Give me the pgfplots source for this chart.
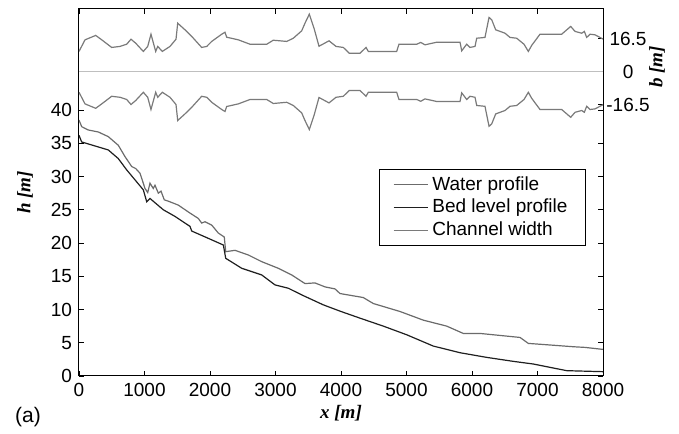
\documentclass[border=0pt]{standalone}
\usepackage{fontspec}
\setmainfont{Liberation Sans}
\newfontfamily\tnr{Liberation Serif}
\usepackage{pgfplots}
\pgfplotsset{compat=1.18}
\definecolor{watercol}{gray}{0.42}
\definecolor{bedcol}{gray}{0.12}
\definecolor{widthcol}{gray}{0.48}
\definecolor{zerocol}{gray}{0.75}
\begin{document}
\begin{tikzpicture}
\pgfplotsset{
  common/.style={
    width=262pt, height=183.5pt, scale only axis,
    xmin=0, xmax=8000,
    font=\fontsize{9.5}{11}\selectfont,
    /pgf/number format/assume math mode=true,
    tick align=inside,
    major tick length=2.5pt,
    tick style={black, line width=0.4pt},
    axis line style={black, line width=0.5pt},
  }
}
\begin{axis}[common,
  ymin=0, ymax=55.2,
  ytick={0,5,...,40},
  xtick={0,1000,...,8000},
  yticklabel pos=left, xticklabel pos=bottom,
  ytick pos=both, xtick pos=both,
  scaled x ticks=false,
  xticklabel style={/pgf/number format/1000 sep={}},
  xlabel={\tnr\bfseries\itshape x [m]},
  ylabel={\tnr\bfseries\itshape h [m]},
  xlabel style={at={(axis description cs:0.5,-0.101)}, anchor=center},
  ylabel style={at={(axis description cs:-0.103,0.5)}, anchor=center},
  legend style={at={(axis description cs:0.9676,0.354)}, anchor=south east,
    draw=black, line width=0.5pt, font=\fontsize{9.5}{11}\selectfont,
    inner xsep=7pt, inner ysep=1.5pt, row sep=-1pt},
  legend cell align=left,
  legend image code/.code={\draw[#1] (0pt,0pt) -- (17pt,0pt);},
]
\addplot[watercol, line width=0.6pt] coordinates {
(0,38.5) (41,37.5) (142,37.0) (295,36.7) (447,36.0) (600,34.7) (702,33.0)
(805,31.5) (866,31.2) (931,30.5) (1008,28.2) (1049,27.6) (1084,29.0) (1134,28.2)
(1160,28.7) (1211,27.5) (1252,27.8) (1302,26.5) (1389,26.2) (1516,25.7) (1695,24.5)
(1821,23.7) (1873,23.0) (1924,23.2) (2026,22.7) (2127,21.5) (2218,20.9) (2240,18.7)
(2382,18.9) (2585,18.2) (2789,17.2) (3043,16.2) (3247,15.2) (3450,13.9) (3603,14.0)
(3756,13.4) (3908,13.1) (3985,12.4) (4340,11.8) (4493,10.9) (4901,9.7) (5256,8.4)
(5614,7.5) (5867,6.4) (6122,6.4) (6733,5.8) (6860,4.9) (7140,4.7) (7547,4.4)
(7725,4.3) (8000,4.0)};
\addlegendentry{Water profile}
\addplot[bedcol, line width=0.6pt] coordinates {
(0,36.2) (41,35.2) (244,34.6) (447,34.0) (600,32.7) (728,31.0) (855,29.5)
(982,28.0) (1034,26.2) (1084,26.7) (1287,25.0) (1466,24.0) (1695,22.5) (1721,21.8)
(1975,20.7) (2204,19.7) (2240,17.7) (2484,16.2) (2789,15.2) (2993,13.7) (3196,13.2)
(3400,12.2) (3730,10.7) (4000,9.7) (4290,8.7) (4646,7.5) (5003,6.2) (5409,4.5)
(5817,3.5) (6224,2.8) (6631,2.2) (6937,1.8) (7242,1.2) (7446,0.8) (8000,0.65)};
\addlegendentry{Bed level profile}
\addlegendimage{widthcol, line width=0.6pt}
\addlegendentry{Channel width}
\coordinate (bl) at (rel axis cs:0,0);
\coordinate (tr) at (rel axis cs:1,1);
\end{axis}
\begin{axis}[common,
  ymin=-151.9, ymax=31.4,
  axis y line*=right, axis x line=none,
  ytick={-16.5,0,16.5},
  yticklabels={-16.5,0,16.5},
  yticklabel style={text width=2.2em, align=center, xshift=-0.2em},
]
\addplot[zerocol, line width=0.6pt] coordinates {(0,0) (8000,0)};
\addplot[widthcol, line width=0.6pt] coordinates {
(0,10.2) (92,16) (255,18.2) (347,16) (499,12.2) (626,12.7) (728,13.8) (794,16.3)
(866,14.3) (982,10.2) (1049,12.7) (1099,18.8) (1150,12.7) (1171,10.2) (1202,12.7)
(1272,10.2) (1389,12.7) (1481,16.3) (1507,24.3) (1618,21) (1721,17.7) (1873,12.2)
(1950,12.7) (2026,15.2) (2179,18.8) (2229,19.8) (2255,17.3) (2432,16) (2611,13.8)
(2866,13.8) (2966,15.8) (3069,15.5) (3171,15.2) (3272,16.8) (3400,20.5) (3450,24.3)
(3516,28.8) (3588,21.8) (3664,12.8) (3817,15.5) (3924,12.7) (4035,12.2) (4127,9.3)
(4290,9.3) (4382,12.2) (4417,10.2) (4850,10.2) (4885,13.8) (5156,13.8) (5217,14.7)
(5282,13.5) (5461,14.8) (5817,14.8) (5843,10.5) (5919,13.8) (5969,12.2) (6046,12.7)
(6072,16.8) (6198,17.2) (6260,27.2) (6301,26) (6362,21) (6504,19.3) (6580,17.2)
(6682,16.8) (6794,13.8) (6860,10.2) (6911,13.2) (7038,18.8) (7369,18.8) (7507,22.7)
(7573,20.2) (7675,19.3) (7715,20.2) (7751,17.2) (7802,18.8) (7878,18.5) (8000,16.4)};
\addplot[widthcol, line width=0.6pt] coordinates {
(0,-10.2) (92,-16) (255,-18.2) (347,-16) (499,-12.2) (626,-12.7) (728,-13.8) (794,-16.3)
(866,-14.3) (982,-10.2) (1049,-12.7) (1099,-18.8) (1150,-12.7) (1171,-10.2) (1202,-12.7)
(1272,-10.2) (1389,-12.7) (1481,-16.3) (1507,-24.3) (1618,-21) (1721,-17.7) (1873,-12.2)
(1950,-12.7) (2026,-15.2) (2179,-18.8) (2229,-19.8) (2255,-17.3) (2432,-16) (2611,-13.8)
(2866,-13.8) (2966,-15.8) (3069,-15.5) (3171,-15.2) (3272,-16.8) (3400,-20.5) (3450,-24.3)
(3516,-28.8) (3588,-21.8) (3664,-12.8) (3817,-15.5) (3924,-12.7) (4035,-12.2) (4127,-9.3)
(4290,-9.3) (4382,-12.2) (4417,-10.2) (4850,-10.2) (4885,-13.8) (5156,-13.8) (5217,-14.7)
(5282,-13.5) (5461,-14.8) (5817,-14.8) (5843,-10.5) (5919,-13.8) (5969,-12.2) (6046,-12.7)
(6072,-16.8) (6198,-17.2) (6260,-27.2) (6301,-26) (6362,-21) (6504,-19.3) (6580,-17.2)
(6682,-16.8) (6794,-13.8) (6860,-10.2) (6911,-13.2) (7038,-18.8) (7369,-18.8) (7507,-22.7)
(7573,-20.2) (7675,-19.3) (7715,-20.2) (7751,-17.2) (7802,-18.8) (7878,-18.5) (8000,-16.4)};
\end{axis}
\node[rotate=90, anchor=center, font=\fontsize{9.5}{11}\selectfont]
  at ([shift={(27pt,-29pt)}]tr) {\tnr\bfseries\itshape b [m]};
\node[anchor=center, font=\fontsize{10.5}{12}\selectfont]
  at ([shift={(-25.5pt,-20.5pt)}]bl) {(a)};
\path ([shift={(-39.5pt,-27.5pt)}]bl) rectangle ([shift={(38pt,4.5pt)}]tr);
\end{tikzpicture}
\end{document}
